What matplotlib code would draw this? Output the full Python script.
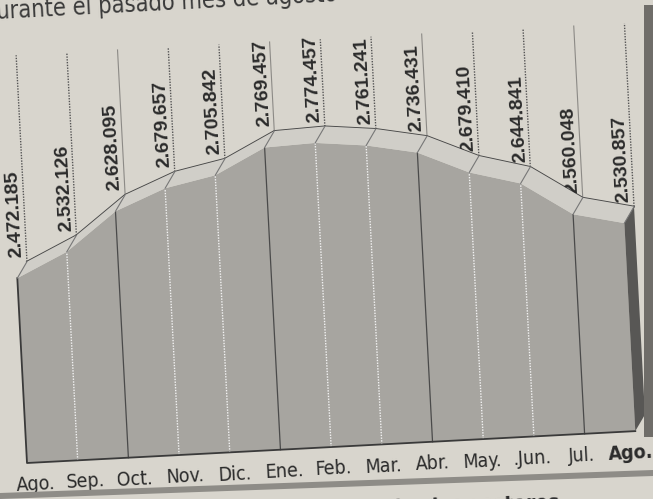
import numpy as np
import matplotlib
matplotlib.use("Agg")
import matplotlib.pyplot as plt
from matplotlib import font_manager
from matplotlib.transforms import Affine2D, ScaledTranslation, IdentityTransform
from matplotlib.patches import Polygon, Rectangle

# data (Aug -> Aug)
months = ["Ago.", "Sep.", "Oct.", "Nov.", "Dic.", "Ene.", "Feb.", "Mar.",
          "Abr.", "May.", ".Jun.", "Jul.", "Ago."]
values = [2472185, 2532126, 2628095, 2679657, 2705842, 2769457, 2774457,
          2761241, 2736431, 2679410, 2644841, 2560048, 2530857]
value_labels = [f"{v:,}".replace(",", ".") for v in values]

W, H = 653, 499
paper = "#d8d5cd"
face_col = "#a7a5a0"
bevel_col = "#d0cec8"
side_col = "#585755"
ink = "#2b2b2b"

# pick a condensed face if there is one
fonts = font_manager.fontManager.ttflist
names = {f.name for f in fonts}
if "Liberation Sans Narrow" in names:
    narrow = dict(family=["Liberation Sans Narrow", "DejaVu Sans"], fontstretch="normal")
    msize = 15
elif "DejaVu Sans Condensed" in names:
    narrow = dict(family=["DejaVu Sans Condensed", "DejaVu Sans"], fontstretch="normal")
    msize = 14
elif any(f.name == "DejaVu Sans" and f.stretch == "condensed" for f in fonts):
    narrow = dict(family=["DejaVu Sans"], fontstretch="condensed")
    msize = 14
else:
    narrow = dict(family=["Liberation Sans", "DejaVu Sans"], fontstretch="normal")
    msize = 12.5
bold = ["Liberation Sans", "DejaVu Sans"]

fig = plt.figure(figsize=(W / 100, H / 100), dpi=100, facecolor=paper)

# chart axes, 12 month steps, baseline at 2.004 millions
base = 2004
ax = fig.add_axes([27 / W, 36 / H, 12 * 50.76 / W, 1000 * 0.3953 / H])
ax.set_xlim(0, 12)
ax.set_ylim(base, base + 1000)
ax.axis("off")

# the whole scan is slightly tilted
rot = Affine2D().rotate_deg_around(27, 36, 3)


def shifted(dx, dy):
    return ax.transData + ScaledTranslation(dx / 100, dy / 100, fig.dpi_scale_trans) + rot


front = shifted(0, 0)
back = shifted(10.5, 16)

x = np.arange(len(values))
y = np.array(values) / 1000
pts = np.column_stack([x, y])

# bevel (top of the 3d band)
bev = np.vstack([back.transform(pts), front.transform(pts)[::-1]])
fig.add_artist(Polygon(bev, closed=True, fc=bevel_col, ec="none",
                       transform=IdentityTransform()))

# side face at the right end
side = np.vstack([front.transform([(12, base), (12, y[-1])]),
                  back.transform([(12, y[-1]), (12, base)])])
fig.add_artist(Polygon(side, closed=True, fc=side_col, ec="none",
                       transform=IdentityTransform()))

# front face
face = [(0, base)] + list(zip(x, y)) + [(12, base)]
ax.add_patch(Polygon(face, closed=True, fc=face_col, ec="none",
                     transform=front, clip_on=False))

for i in range(1, 12):
    if i % 3 == 2:
        ax.plot([i, i], [base, y[i]], color="#4a4a4a", lw=0.9,
                transform=front, clip_on=False)
    else:
        ax.plot([i, i], [base, y[i]], color="#f2f2f2", lw=1.0,
                ls=(0, (1, 1)), transform=front, clip_on=False)

ax.plot([0, 0, 12], [y[0], base, base], color="#3a3a3a", lw=1.3,
        transform=front, clip_on=False)

# bevel connectors
for i in range(len(values)):
    p = np.vstack([front.transform([(i, y[i])]), back.transform([(i, y[i])])])
    fig.add_artist(plt.Line2D(p[:, 0], p[:, 1], color="#777777", lw=0.8,
                              transform=IdentityTransform()))

# guide lines above the curve
top = 2995
for i in range(len(values)):
    if i % 3 == 2:
        ax.plot([i, i], [y[i], top], color="#8c8a86", lw=0.8,
                transform=back, clip_on=False)
    else:
        ax.plot([i, i], [y[i], top], color="#555555", lw=1.0,
                ls=(0, (1, 1)), transform=back, clip_on=False)

# top line
ax.plot(x, y, color="#474747", lw=1.3, transform=back, clip_on=False,
        solid_joinstyle="miter")

# value labels
for i, lab in enumerate(value_labels):
    ax.text(i, y[i], lab, transform=shifted(10.5 - 5, 16 + 5),
            rotation=93, rotation_mode="anchor", ha="left", va="baseline",
            fontsize=14, fontweight="bold", family=bold, color=ink,
            clip_on=False)

# month labels (the row sits a little tighter than the columns)
for i, m in enumerate(months):
    ax.text(i, base, m, transform=shifted(7.5 - 1.05 * i, -22), rotation=3,
            rotation_mode="anchor", ha="center", va="center",
            fontsize=msize, color=ink, **narrow,
            fontweight="bold" if i == len(months) - 1 else "normal",
            clip_on=False)

# panel shadows
fig.add_artist(Rectangle((644, 62), 9, 432, fc="#6f6d69", ec="none",
                         transform=IdentityTransform()))
fig.add_artist(Polygon([(0, 6), (653, 29), (653, 23), (0, 0)], closed=True,
                       fc="#8e8c87", ec="none", transform=IdentityTransform()))

# cut-off surrounding text
fig.text(-3 / W, 480 / H, "urante el pasado mes de agosto", rotation=3,
         rotation_mode="anchor", ha="left", va="baseline", fontsize=msize + 3,
         color="#3a3a3a", **narrow)
fig.text(560 / W, -10 / H, "en todos los sectores", rotation=2,
         rotation_mode="anchor", ha="right", va="baseline", fontsize=msize + 1,
         fontweight="bold", color="#2e2e2e", **narrow)

fig.savefig("out.png", dpi=100, facecolor=paper)
